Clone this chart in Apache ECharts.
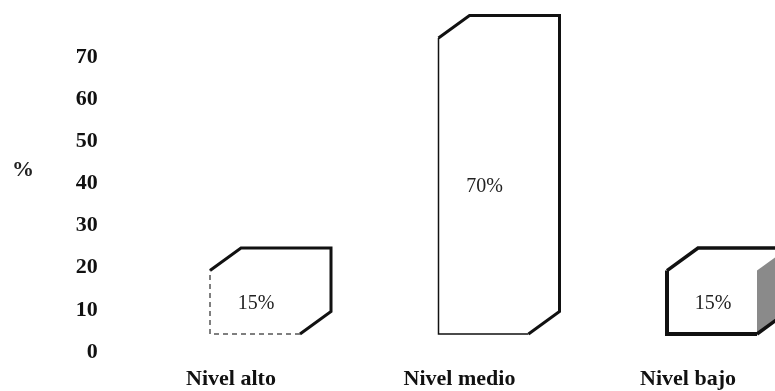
<!DOCTYPE html>
<html><head><meta charset="utf-8">
<script src="https://cdn.jsdelivr.net/npm/echarts@6/dist/echarts.min.js"></script>
<style>html,body{margin:0;padding:0;background:#fff}#c{width:775px;height:391px}</style>
</head><body><div id="c"></div>
<script>
const categories = ['Nivel alto', 'Nivel medio', 'Nivel bajo'];
const values = [15, 70, 15];
const valueLabels = ['15%', '70%', '15%'];
const yMin = 0, yMax = 70, yStep = 10;

const chart = echarts.init(document.getElementById('c'), null, {renderer: 'canvas'});
const serif = 'Liberation Serif';
const ink = '#111';

function renderItem(params, api) {
  const i = api.value(0), v = api.value(1);
  const top = api.coord([i, v]), base = api.coord([i, 0]);
  const cx = top[0], yT = top[1], yB = base[1];
  const hw = 45, dx = 31, dy = -22.5;
  const x0 = cx - hw, x1 = cx + hw;
  const last = i === 2;
  const kids = [];
  kids.push({type: 'polygon', shape: {points: [[x0, yT], [x0 + dx, yT + dy], [x1 + dx, yT + dy], [x1 + dx, yB + dy], [x1, yB], [x0, yB]]},
    style: {fill: '#fff', stroke: null}});
  if (last) {
    kids.push({type: 'polygon', shape: {points: [[x1, yT], [x1 + dx, yT + dy], [x1 + dx, yB + dy], [x1, yB]]},
      style: {fill: '#8a8a8a', stroke: null}});
  }
  kids.push({type: 'polyline', shape: {points: [[x0, yT], [x0 + dx, yT + dy], [x1 + dx, yT + dy], [x1 + dx, yB + dy], [x1, yB]]},
    style: {fill: null, stroke: ink, lineWidth: last ? 3.5 : 3}});
  kids.push({type: 'polyline', shape: {points: [[x1, yB], [x0, yB], [x0, yT]]},
    style: {fill: null, stroke: i === 0 ? '#555' : ink, lineWidth: last ? 4 : 1.5, lineDash: i === 0 ? [5, 4] : null}});
  kids.push({type: 'text', x: cx + 1, y: (yT + yB) / 2 + 1,
    style: {text: valueLabels[i], fontFamily: serif, fontSize: 20, fill: '#222', align: 'center', verticalAlign: 'middle'}});
  return {type: 'group', children: kids};
}

chart.setOption({
  animation: false,
  backgroundColor: '#fff',
  grid: [
    {left: 140.75, top: 38, width: 685.5, height: 296, outerBoundsMode: 'none', containLabel: false},
    {left: 116.75, top: 57, width: 685.5, height: 295, outerBoundsMode: 'none', containLabel: false}
  ],
  xAxis: [
    {type: 'category', gridIndex: 0, data: categories, show: false},
    {type: 'category', gridIndex: 1, data: categories,
      axisLine: {show: false}, axisTick: {show: false},
      axisLabel: {margin: 16, fontFamily: serif, fontWeight: 'bold', fontSize: 22, color: '#111'}}
  ],
  yAxis: [
    {type: 'value', gridIndex: 0, min: yMin, max: yMax, interval: yStep, show: false},
    {type: 'value', gridIndex: 1, min: yMin, max: yMax, interval: yStep,
      axisLine: {show: false}, axisTick: {show: false}, splitLine: {show: false},
      axisLabel: {margin: 19, fontFamily: serif, fontWeight: 'bold', fontSize: 22, color: '#111'}}
  ],
  graphic: [
    {type: 'text', left: 12, top: 159, style: {text: '%', fontFamily: serif, fontWeight: 'bold', fontSize: 22, fill: '#222'}}
  ],
  series: [{
    type: 'custom', xAxisIndex: 0, yAxisIndex: 0,
    data: values.map((v, i) => [i, v]),
    renderItem: renderItem
  }]
});
</script></body></html>
